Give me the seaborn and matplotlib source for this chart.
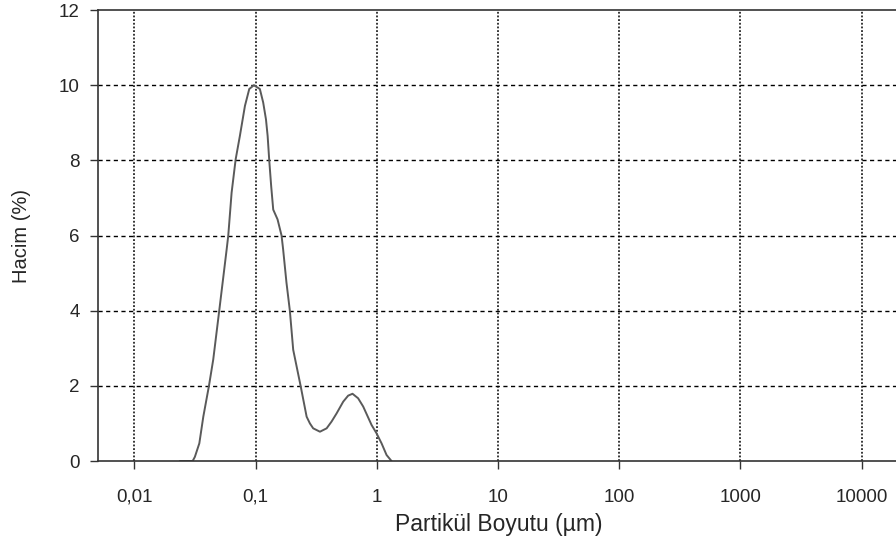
import numpy as np
import pandas as pd
import seaborn as sns
import matplotlib.pyplot as plt

# particle size (um) and volume (%)
boyut = [0.0238, 0.0303, 0.0316, 0.0344, 0.0371, 0.0413, 0.0448, 0.0502,
         0.0578, 0.0596, 0.0635, 0.0686, 0.0743, 0.0818, 0.0888, 0.097,
         0.1086, 0.1157, 0.122, 0.1259, 0.1298, 0.1347, 0.140, 0.152,
         0.164, 0.169, 0.180, 0.192, 0.2046, 0.2355, 0.264, 0.281, 0.299,
         0.340, 0.386, 0.424, 0.467, 0.529, 0.581, 0.631, 0.702, 0.773,
         0.906, 0.995, 1.096, 1.205, 1.324]
hacim = [0.0, 0.0, 0.11, 0.47, 1.18, 2.0, 2.7, 4.0,
         5.63, 6.0, 7.14, 8.03, 8.65, 9.45, 9.9, 10.0,
         9.9, 9.54, 9.09, 8.65, 8.0, 7.31, 6.69, 6.43,
         6.0, 5.63, 4.75, 4.0, 2.96, 2.0, 1.18, 1.0, 0.87,
         0.78, 0.87, 1.05, 1.27, 1.58, 1.74, 1.79, 1.67, 1.45,
         0.96, 0.74, 0.47, 0.16, 0.0]

xticks = [0.01, 0.1, 1, 10, 100, 1000, 10000]
xtick_labels = ["0,01", "0,1", "1", "10", "100", "1000", "10000"]
yticks = [0, 2, 4, 6, 8, 10, 12]

df = pd.DataFrame({"boyut": boyut, "hacim": hacim})

sns.set_style("white")
plt.rcParams['font.family'] = ['Liberation Sans', 'DejaVu Sans']

fig = plt.figure(figsize=(8.96, 5.42), dpi=100)
ax = fig.add_axes([0.109, 0.1494, 0.896, 0.832])

sns.lineplot(data=df, x="boyut", y="hacim", color="#5a5a5a", linewidth=1.4, ax=ax)

ax.set_xscale("log")
ax.set_xlim(10 ** -2.302, 10 ** 4.32)
ax.set_ylim(0, 12)
ax.set_xticks(xticks)
ax.set_xticklabels(xtick_labels)
ax.set_yticks(yticks)
ax.minorticks_off()

for x in xticks:
    ax.axvline(x, color="black", linestyle=(0, (1.2, 1.2)), linewidth=1.1, zorder=0)
for y in yticks[1:-1]:
    ax.axhline(y, color="black", linestyle=(0, (3, 2.5)), linewidth=1.0, zorder=0)

for side in ["left", "bottom", "top"]:
    ax.spines[side].set_color("#333333")
    ax.spines[side].set_linewidth(1.2)
ax.spines["right"].set_visible(False)

ax.tick_params(axis="both", direction="out", length=6, width=1, color="#333333",
               labelsize=13.5, bottom=True, left=True)
ax.tick_params(axis="x", pad=14)
ax.tick_params(axis="y", pad=7)
ax.set_xlabel("Partikül Boyutu (µm)", fontsize=16.5, labelpad=5)
ax.set_ylabel("Hacim (%)", fontsize=14.5, labelpad=20)

fig.savefig("out.png", dpi=100)
